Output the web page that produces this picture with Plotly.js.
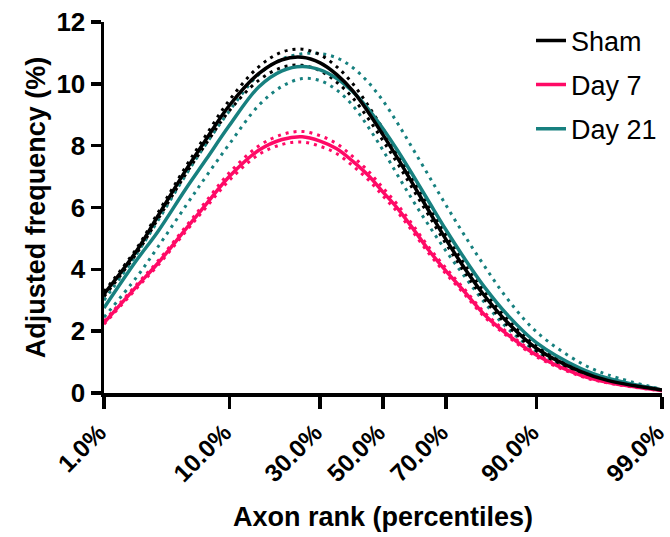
<!DOCTYPE html>
<html>
<head>
<meta charset="utf-8">
<script src="https://cdn.plot.ly/plotly-3.0.1.min.js"></script>
<style>
  html, body { margin: 0; padding: 0; background: #fff; }
  #chart { width: 670px; height: 537px; }
</style>
</head>
<body>
<div id="chart"></div>
<script>
// Percentile ranks (%) at which the curves were read
const percentiles = [1, 2, 3, 5, 7, 10, 15, 20, 25, 30, 35, 40, 45, 50, 55, 60, 65, 70, 75, 80, 85, 90, 95, 97, 99];

// Sham
const shamMean  = [3.2, 4.6, 5.7, 7.2, 8.2, 9.3, 10.33, 10.78, 10.86, 10.68, 10.3, 9.78, 9.1, 8.35, 7.57, 6.73, 5.87, 4.97, 4.07, 3.17, 2.29, 1.44, 0.7, 0.4, 0.1];
const shamUpper = [3.28, 4.68, 5.8, 7.32, 8.34, 9.47, 10.55, 11.03, 11.12, 10.94, 10.55, 10.01, 9.31, 8.54, 7.74, 6.89, 6.02, 5.11, 4.2, 3.29, 2.39, 1.52, 0.75, 0.43, 0.11];
const shamLower = [3.12, 4.52, 5.6, 7.08, 8.06, 9.13, 10.11, 10.53, 10.6, 10.42, 10.05, 9.55, 8.89, 8.16, 7.4, 6.57, 5.72, 4.83, 3.94, 3.05, 2.19, 1.36, 0.65, 0.37, 0.09];

// Day 7
const day7Mean  = [2.27, 3.45, 4.18, 5.3, 6.1, 7.0, 7.85, 8.2, 8.29, 8.15, 7.9, 7.5, 7.05, 6.5, 5.95, 5.3, 4.6, 3.95, 3.3, 2.55, 1.9, 1.22, 0.58, 0.34, 0.08];
const day7Upper = [2.32, 3.51, 4.25, 5.38, 6.2, 7.12, 7.99, 8.36, 8.46, 8.32, 8.06, 7.65, 7.19, 6.63, 6.07, 5.41, 4.7, 4.04, 3.38, 2.62, 1.96, 1.27, 0.61, 0.36, 0.09];
const day7Lower = [2.22, 3.39, 4.11, 5.22, 6.0, 6.88, 7.71, 8.04, 8.12, 7.98, 7.74, 7.35, 6.91, 6.37, 5.83, 5.19, 4.5, 3.86, 3.22, 2.48, 1.84, 1.17, 0.55, 0.32, 0.07];

// Day 21
const day21Mean  = [2.75, 4.3, 5.2, 6.6, 7.55, 8.65, 9.9, 10.42, 10.56, 10.45, 10.17, 9.75, 9.2, 8.55, 7.82, 7.02, 6.17, 5.28, 4.38, 3.45, 2.53, 1.62, 0.8, 0.47, 0.1];
const day21Upper = [3.0, 4.5, 5.55, 7.05, 8.05, 9.12, 10.3, 10.8, 10.97, 10.98, 10.84, 10.53, 10.06, 9.45, 8.7, 7.87, 7.0, 6.08, 5.13, 4.13, 3.05, 1.97, 0.98, 0.58, 0.12];
const day21Lower = [2.45, 3.75, 4.7, 6.05, 7.0, 8.05, 9.3, 9.92, 10.17, 10.1, 9.8, 9.3, 8.62, 7.85, 7.02, 6.2, 5.4, 4.6, 3.8, 2.95, 2.1, 1.35, 0.68, 0.4, 0.08];

// Axis ticks
const tickPercents = [1, 10, 30, 50, 70, 90, 99];
const tickLabels = ["1.0%", "10.0%", "30.0%", "50.0%", "70.0%", "90.0%", "99.0%"];
const yTicks = [0, 2, 4, 6, 8, 10, 12];

// Probability (normal-quantile) scale for the x axis
function probit(p) {
  const a = [-3.969683028665376e+01, 2.209460984245205e+02, -2.759285104469687e+02, 1.383577518672690e+02, -3.066479806614716e+01, 2.506628277459239e+00];
  const b = [-5.447609879822406e+01, 1.615858368580409e+02, -1.556989798598866e+02, 6.680131188771972e+01, -1.328068155288572e+01];
  const c = [-7.784894002430293e-03, -3.223964580411365e-01, -2.400758277161838e+00, -2.549732539343734e+00, 4.374664141464968e+00, 2.938163982698783e+00];
  const d = [7.784695709041462e-03, 3.224671290700398e-01, 2.445134137142996e+00, 3.754408661907416e+00];
  const plow = 0.02425, phigh = 1 - plow;
  let q, r;
  if (p < plow) {
    q = Math.sqrt(-2 * Math.log(p));
    return (((((c[0]*q + c[1])*q + c[2])*q + c[3])*q + c[4])*q + c[5]) / ((((d[0]*q + d[1])*q + d[2])*q + d[3])*q + 1);
  } else if (p <= phigh) {
    q = p - 0.5; r = q * q;
    return (((((a[0]*r + a[1])*r + a[2])*r + a[3])*r + a[4])*r + a[5]) * q / (((((b[0]*r + b[1])*r + b[2])*r + b[3])*r + b[4])*r + 1);
  } else {
    q = Math.sqrt(-2 * Math.log(1 - p));
    return -(((((c[0]*q + c[1])*q + c[2])*q + c[3])*q + c[4])*q + c[5]) / ((((d[0]*q + d[1])*q + d[2])*q + d[3])*q + 1);
  }
}
const toX = arr => arr.map(v => probit(v / 100));
const xs = toX(percentiles);

const BLACK = "#000000", PINK = "#ff0a66", TEAL = "#17807f";
const DOT = "3px,5px";

function band(y, color) {
  return { x: xs, y: y, type: "scatter", mode: "lines", showlegend: false, hoverinfo: "skip",
           line: { color: color, width: 3, dash: DOT, shape: "spline", smoothing: 1 } };
}
function mean(y, color, name, rank) {
  return { x: xs, y: y, type: "scatter", mode: "lines", name: name, legendrank: rank,
           legendgroup: "g" + rank,
           line: { color: color, width: 3.5, shape: "spline", smoothing: 1 } };
}

const data = [
  band(day21Upper, TEAL), band(day21Lower, TEAL),
  band(day7Upper, PINK), band(day7Lower, PINK),
  band(shamUpper, BLACK), band(shamLower, BLACK),
  mean(day21Mean, TEAL, "Day 21", 3),
  mean(day7Mean, PINK, "Day 7", 2),
  mean(shamMean, BLACK, "Sham", 1)
];

const FONT = "Arial, 'Liberation Sans', sans-serif";

const layout = {
  width: 670, height: 537,
  margin: { l: 104, r: 8, t: 22, b: 144 },
  paper_bgcolor: "#fff", plot_bgcolor: "#fff",
  showlegend: true,
  legend: {
    x: 1.0, y: 1.015, xanchor: "right", yanchor: "top",
    traceorder: "grouped", tracegroupgap: 6,
    font: { family: FONT, size: 27, color: "#000" },
    bgcolor: "rgba(0,0,0,0)"
  },
  xaxis: {
    range: [probit(0.01), probit(0.99)],
    tickmode: "array", tickvals: toX(tickPercents), ticktext: tickLabels,
    tickangle: -45, ticklabeloverflow: "allow", ticklabelshift: -5,
    showline: true, linecolor: "#000", linewidth: 3.5,
    ticks: "outside", ticklen: 12, tickwidth: 3.5, tickcolor: "#000",
    showgrid: false, zeroline: false,
    tickfont: { family: FONT, size: 24.5, color: "#000", weight: "bold" },
    title: { text: "<b>Axon rank (percentiles)</b>", standoff: 22,
             font: { family: FONT, size: 27, color: "#000" } }
  },
  yaxis: {
    range: [0, 12],
    tickmode: "array", tickvals: yTicks,
    showline: true, linecolor: "#000", linewidth: 3.5,
    ticks: "outside", ticklen: 10, tickwidth: 3.5, tickcolor: "#000",
    showgrid: false, zeroline: false,
    tickfont: { family: FONT, size: 26, color: "#000", weight: "bold" },
    title: { text: "<b>Adjusted frequency (%)</b>", standoff: 4,
             font: { family: FONT, size: 27, color: "#000" } }
  }
};

Plotly.newPlot("chart", data, layout, { staticPlot: true, displayModeBar: false });
</script>
</body>
</html>
